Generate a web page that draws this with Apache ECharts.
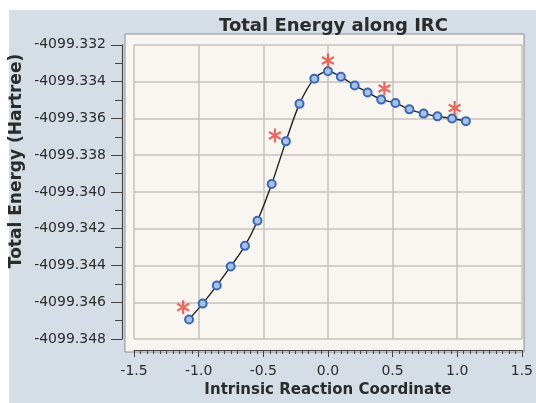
<!DOCTYPE html>
<html>
<head>
<meta charset="utf-8">
<script src="https://cdn.jsdelivr.net/npm/echarts@6/dist/echarts.min.js"></script>
<style>
	html, body { margin: 0; padding: 0; background: #fff; }
	#charts { width: 536px; height: 403px; }
</style>
</head>
<body>
<div id="charts"></div>
<script>
// IRC 点
var irc = [-1.074, -0.969, -0.860, -0.752, -0.642, -0.545, -0.435, -0.325, -0.220, -0.105, 0.000,
	0.100, 0.207, 0.307, 0.412, 0.522, 0.630, 0.740, 0.847, 0.960, 1.067];
var energy = [-4099.34693, -4099.34607, -4099.34509, -4099.34405, -4099.34293, -4099.34157, -4099.33957,
	-4099.33725, -4099.33521, -4099.33384, -4099.33344, -4099.33374, -4099.33421, -4099.33459,
	-4099.33498, -4099.33516, -4099.33551, -4099.33574, -4099.33589, -4099.33601, -4099.33615];
// 红色星号
var starX = [-1.12, -0.41, 0.0, 0.437, 0.98];
var starE = [-4099.34627, -4099.33693, -4099.33285, -4099.33437, -4099.33544];

var xMin = -1.5, xMax = 1.5, xStep = 0.5;
var yMin = -4099.348, yMax = -4099.332, yStep = 0.002;

(function() {
	'use strict';

	var font = 'DejaVu Sans',
		txt = '#2b2b2b',
		asterisk = 'path://M-1,-6L1,-6L1,6L-1,6Z' +
			'M4.696,-3.866L5.696,-2.134L-4.696,3.866L-5.696,2.134Z' +
			'M-5.696,-2.134L-4.696,-3.866L5.696,2.134L4.696,3.866Z';

	var line = irc.map(function(x, i) { return [x, energy[i]]; }),
		stars = starX.map(function(x, i) { return [x, starE[i]]; });

	var myChart = echarts.init(document.getElementById('charts'));
	myChart.setOption({
		backgroundColor: '#fff',
		animation: false,
		title: {
			text: 'Total Energy along IRC',
			left: 214,
			top: 12,
			textStyle: { fontFamily: font, fontSize: 18, fontWeight: 'bold', color: txt }
		},
		graphic: [
			{ type: 'rect', z: -20, shape: { x: 9, y: 10, width: 527, height: 393 }, style: { fill: '#d5dee6' } },
			{ type: 'rect', z: -10, shape: { x: 125, y: 34, width: 399, height: 318 },
				style: { fill: '#f9f6f1', stroke: '#8d8d8d', lineWidth: 1 } },
			{ type: 'text', x: 17, y: 161, rotation: Math.PI / 2,
				style: { text: 'Total Energy (Hartree)', font: 'bold 17px "DejaVu Sans"', fill: txt,
					textAlign: 'center', textVerticalAlign: 'middle' } }
		],
		grid: { left: 134, right: 12, top: 44.8, bottom: 58.2 },
		xAxis: {
			type: 'value', min: xMin, max: xMax, interval: xStep,
			offset: 11,
			name: 'Intrinsic Reaction Coordinate',
			nameLocation: 'middle',
			nameGap: 29,
			nameTextStyle: { fontFamily: font, fontSize: 15, fontWeight: 'bold', color: txt },
			axisLine: { onZero: false, lineStyle: { color: '#444', width: 1.2 } },
			axisTick: { length: 7, lineStyle: { color: '#444' } },
			minorTick: { show: true, splitNumber: 10, length: 4, lineStyle: { color: '#444' } },
			axisLabel: { margin: 14, fontFamily: font, fontSize: 14, color: txt,
				formatter: function(v) { return v.toFixed(1); } },
			splitLine: { show: true, lineStyle: { color: '#c6c2bc', width: 1.5 } }
		},
		yAxis: {
			type: 'value', min: yMin, max: yMax, interval: yStep,
			offset: 12,
			axisLine: { show: true, onZero: false, lineStyle: { color: '#444', width: 1.2 } },
			axisTick: { show: true, length: 11, lineStyle: { color: '#444' } },
			minorTick: { show: true, splitNumber: 2, length: 7, lineStyle: { color: '#444' } },
			axisLabel: { margin: 16, fontFamily: font, fontSize: 14, color: txt,
				formatter: function(v) { return v.toFixed(3); } },
			splitLine: { show: true, lineStyle: { color: '#c6c2bc', width: 1.5 } }
		},
		series: [
			{
				type: 'line',
				data: line,
				smooth: 0.3,
				symbol: 'circle',
				symbolSize: 8,
				lineStyle: { color: '#222', width: 1.4 },
				itemStyle: { color: '#a9c1e4', borderColor: '#3a68b8', borderWidth: 2 },
				z: 3
			},
			{
				type: 'scatter',
				data: stars,
				symbol: asterisk,
				symbolSize: [13, 14],
				itemStyle: { color: '#e5473d' },
				z: 4
			}
		]
	});
})();
</script>
</body>
</html>
